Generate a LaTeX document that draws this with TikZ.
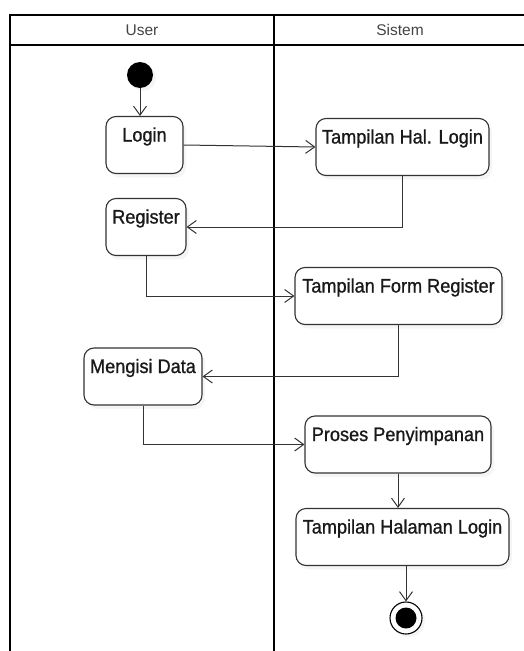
\documentclass[tikz,border=0pt]{standalone}
\usepackage{fontspec}
\setmainfont{Liberation Sans}
\newfontfamily\boxfont[FakeBold=0.9, FakeStretch=0.93]{Liberation Sans}
\usetikzlibrary{arrows.meta, positioning, shadows}
\definecolor{lineGray}{HTML}{333333}
\definecolor{headGray}{HTML}{444444}

\begin{document}
\begin{tikzpicture}[
  x=1pt, y=-1pt,
  lane/.style={draw=black, line width=2pt},
  lanehead/.style={font=\fontsize{15.5}{17}\selectfont, text=headGray},
  actbox/.style={draw=lineGray, line width=1.1pt, rounded corners=10pt, fill=white, inner xsep=3pt, inner ysep=0pt, text height=25pt, text depth=32pt, font=\boxfont\fontsize{19.5}{21}\selectfont, text=black!90, drop shadow={shadow xshift=3pt, shadow yshift=-4pt, opacity=0.08}},
  startnode/.style={circle, fill=black, minimum size=26pt, inner sep=0pt, drop shadow={shadow xshift=3pt, shadow yshift=-3pt, opacity=0.08}},
  endnode/.style={circle, draw=black, line width=1.1pt, fill=white, minimum size=32pt, inner sep=0pt, path picture={\fill[black] (path picture bounding box.center) circle (10.5pt);}, drop shadow={shadow xshift=3pt, shadow yshift=-3pt, opacity=0.08}},
  arrow/.style={-{Straight Barb[length=9pt, width=13pt]}, draw=lineGray, line width=1pt}
]
\useasboundingbox (0,0) rectangle (523,651);

\draw[lane] (10,15) rectangle (274,670);
\draw[lane] (274,15) rectangle (527,670);
\draw[lane] (10,45) -- (527,45);
\node[lanehead] (user) at (142,30) {User};
\node[lanehead] (sistem) at (400,30) {Sistem};

\node[startnode] (start) at (140,75) {};
\node[actbox, minimum width=77pt] (login) at (144.5,145) {Login};
\node[actbox, minimum width=173pt] (tlogin) at (402.5,147) {Tampilan Hal. Login};
\node[actbox, minimum width=80pt] (register) at (146,227) {Register};
\node[actbox, minimum width=207pt] (tform) at (398.5,296) {Tampilan Form Register};
\node[actbox, minimum width=118pt] (mengisi) at (143,376.5) {Mengisi Data};
\node[actbox, minimum width=186pt] (proses) at (398,444.5) {Proses Penyimpanan};
\node[actbox, minimum width=213pt] (thalaman) at (402.5,537) {Tampilan Halaman Login};
\node[endnode] (final) at (406,618) {};

\draw[arrow] (start) -- (start |- login.north);
\draw[arrow] (login.east) -- (tlogin.west);
\draw[arrow] (tlogin.south) |- (register.east);
\draw[arrow] (register.south) |- (tform.west);
\draw[arrow] (tform.south) |- (mengisi.east);
\draw[arrow] (mengisi.south) |- (proses.west);
\draw[arrow] (proses.south) -- (proses.south |- thalaman.north);
\draw[arrow] (thalaman.south -| final) -- (final);
\end{tikzpicture}
\end{document}
